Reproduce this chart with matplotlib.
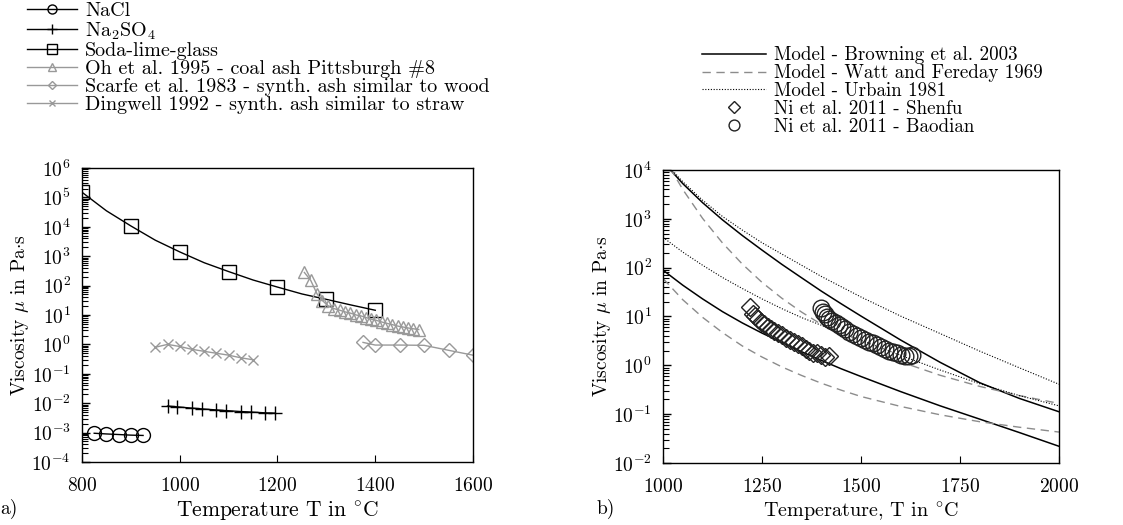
import numpy as np
import matplotlib
matplotlib.use("Agg")
import matplotlib.pyplot as plt
from matplotlib.ticker import LogLocator, NullFormatter, FixedLocator

plt.rcParams['font.family'] = ['cmr10', 'DejaVu Serif']
plt.rcParams['mathtext.fontset'] = 'cm'
plt.rcParams['axes.formatter.use_mathtext'] = True
plt.rcParams['axes.unicode_minus'] = False
plt.rcParams['font.size'] = 14

GREY = '#999999'

# ---- panel a) data (temperature in degC, viscosity in Pa s) ----
nacl_T = [825, 850, 875, 900, 925]
nacl_mu = [0.95e-3, 0.9e-3, 0.86e-3, 0.82e-3, 0.8e-3]

na2so4_T = [975, 995, 1025, 1045, 1075, 1095, 1125, 1145, 1175, 1195]
na2so4_mu = [8.0e-3, 7.5e-3, 6.8e-3, 6.4e-3, 5.9e-3, 5.6e-3, 5.2e-3, 5.0e-3, 4.7e-3, 4.6e-3]

glass_T = [800, 900, 1000, 1100, 1200, 1300, 1400]
glass_mu = [1.5e5, 1.07e4, 1.4e3, 300, 89, 34, 14.5]
# fitted curve through the soda-lime-glass points
glass_fit_T = [800, 850, 900, 950, 1000, 1050, 1100, 1150, 1200, 1250, 1300, 1350, 1400]
glass_fit_mu = [1.5e5, 3.5e4, 1.07e4, 3.5e3, 1.4e3, 600, 300, 155, 89, 52, 34, 22, 14.5]

oh_T = [1255, 1268, 1281, 1292, 1304, 1315, 1327, 1338, 1349, 1361, 1371, 1381,
        1392, 1402, 1413, 1424, 1435, 1446, 1457, 1468, 1478, 1489]
oh_mu = [280, 150, 52, 31, 20, 16.6, 14.6, 12.8, 11.6, 10.0, 9.3, 8.2,
         7.2, 6.6, 5.8, 5.2, 4.7, 4.2, 3.9, 3.6, 3.4, 3.2]

scarfe_T = [1375, 1400, 1450, 1500, 1550, 1600]
scarfe_mu = [1.17, 0.95, 0.95, 0.93, 0.63, 0.43]

dingwell_T = [950, 975, 1000, 1025, 1050, 1075, 1100, 1125, 1150]
dingwell_mu = [0.8, 1.0, 0.85, 0.68, 0.58, 0.5, 0.43, 0.35, 0.3]

# ---- panel b) data ----
model_T = [1000, 1050, 1100, 1150, 1200, 1250, 1300, 1350, 1400, 1450, 1500,
           1600, 1700, 1800, 1900, 2000]
browning_baodian = [14800, 5250, 2140, 955, 457, 229, 117, 62, 33, 18.2, 10.2,
                    3.3, 1.15, 0.44, 0.21, 0.112]
urbain_baodian = [15800, 5750, 2400, 1120, 590, 324, 190, 112, 66, 40.7, 25.1,
                  10.2, 4.47, 1.95, 0.89, 0.41]
watt_baodian = [19500, 3980, 1020, 322, 119, 50, 23.7, 12.3, 6.9, 4.1, 2.6,
                1.18, 0.625, 0.37, 0.24, 0.166]
browning_shenfu = [89, 43.7, 22.9, 12.6, 7.4, 4.57, 2.95, 1.9, 1.26, 0.85, 0.59,
                   0.29, 0.148, 0.079, 0.042, 0.022]
urbain_shenfu = [417, 208, 112, 63, 37.5, 22.9, 14.5, 9.5, 6.6, 4.6, 3.24,
                 1.6, 0.8, 0.42, 0.24, 0.148]
watt_shenfu = [60, 22, 9.6, 4.7, 2.5, 1.48, 0.93, 0.62, 0.43, 0.31, 0.23,
               0.144, 0.097, 0.070, 0.054, 0.043]

shenfu_T = [1220, 1226, 1232, 1240, 1248, 1256, 1264, 1272, 1280, 1290, 1300, 1310,
            1320, 1330, 1340, 1350, 1360, 1368, 1378, 1390, 1400, 1410, 1420]
shenfu_mu = [16, 11.5, 10, 8.8, 7.8, 6.9, 6.2, 5.6, 5.1, 4.5, 4.1, 3.7,
             3.3, 3.0, 2.7, 2.5, 2.2, 2.0, 1.8, 1.75, 1.6, 1.5, 1.55]

baodian_T = [1400, 1405, 1410, 1415, 1420, 1428, 1436, 1444, 1452, 1460, 1470, 1480,
             1490, 1500, 1510, 1520, 1530, 1540, 1550, 1560, 1570, 1580, 1590, 1600,
             1610, 1620, 1630]
baodian_mu = [14.8, 12.6, 11.0, 9.8, 8.9, 7.9, 7.2, 6.6, 6.0, 5.5, 4.9, 4.4,
              4.0, 3.6, 3.3, 3.0, 2.8, 2.6, 2.4, 2.2, 2.0, 1.9, 1.8, 1.66,
              1.58, 1.58, 1.62]

fig = plt.figure(figsize=(11.23, 5.25), dpi=100)
ax1 = fig.add_axes([0.0730, 0.1200, 0.3482, 0.5600])
ax2 = fig.add_axes([0.5904, 0.1181, 0.3526, 0.5581])

# ---- panel a ----
h_nacl, = ax1.plot(nacl_T, nacl_mu, color='k', lw=1, marker='o', ms=10,
                   mfc='none', mec='k', mew=1, label='NaCl')
h_na2, = ax1.plot(na2so4_T, na2so4_mu, color='k', lw=1, marker='+', ms=10,
                  mew=1, label='Na$_2$SO$_4$')
ax1.plot(glass_fit_T, glass_fit_mu, color='k', lw=1)
ax1.plot(glass_T, glass_mu, ls='none', marker='s', ms=10,
         mfc='none', mec='k', mew=1)
h_glass, = ax1.plot([], [], color='k', lw=1, marker='s', ms=10,
                    mfc='none', mec='k', mew=1, label='Soda-lime-glass')
h_oh, = ax1.plot(oh_T, oh_mu, color=GREY, lw=1, marker='^', ms=9,
                 mfc='none', mec=GREY, mew=1,
                 label='Oh et al. 1995 - coal ash Pittsburgh #8')
h_sc, = ax1.plot(scarfe_T, scarfe_mu, color=GREY, lw=1, marker='D', ms=7,
                 mfc='none', mec=GREY, mew=1,
                 label='Scarfe et al. 1983 - synth. ash similar to wood')
h_dw, = ax1.plot(dingwell_T, dingwell_mu, color=GREY, lw=1, marker='x', ms=7,
                 mew=1, label='Dingwell 1992 - synth. ash similar to straw')

ax1.set_xlim(800, 1600)
ax1.set_ylim(1e-4, 1e6)
ax1.set_yscale('log')
ax1.xaxis.set_major_locator(FixedLocator([800, 1000, 1200, 1400, 1600]))
ax1.set_xlabel('Temperature T in $^{\\circ}$C', fontsize=15.5, labelpad=3)
ax1.set_ylabel('Viscosity $\\mu$ in Pa$\\cdot$s', labelpad=0)

ax1.legend(handles=[h_nacl, h_na2, h_glass, h_oh, h_sc, h_dw],
           loc='upper left', bbox_to_anchor=(0.024, 0.996),
           bbox_transform=fig.transFigure, frameon=False, borderpad=0,
           borderaxespad=0, handlelength=2.5, handletextpad=0.4,
           labelspacing=0.0, markerscale=0.65, fontsize=14.5)

# ---- panel b ----
h_b, = ax2.plot(model_T, browning_baodian, color='k', lw=1.1,
                label='Model - Browning et al. 2003')
ax2.plot(model_T, browning_shenfu, color='k', lw=1.1)
h_w, = ax2.plot(model_T, watt_baodian, color='#8c8c8c', lw=1, ls=(0, (6, 4)),
                label='Model - Watt and Fereday 1969')
ax2.plot(model_T, watt_shenfu, color='#8c8c8c', lw=1, ls=(0, (6, 4)))
h_u, = ax2.plot(model_T, urbain_baodian, color='k', lw=0.8, ls=(0, (1, 1.5)),
                label='Model - Urbain 1981')
ax2.plot(model_T, urbain_shenfu, color='k', lw=0.8, ls=(0, (1, 1.5)))
h_s, = ax2.plot(shenfu_T, shenfu_mu, ls='none', marker='D', ms=9,
                mfc='none', mec='#222222', mew=1,
                label='Ni et al. 2011 - Shenfu')
h_bd, = ax2.plot(baodian_T, baodian_mu, ls='none', marker='o', ms=12,
                 mfc='none', mec='#222222', mew=1,
                 label='Ni et al. 2011 - Baodian')

ax2.set_xlim(1000, 2000)
ax2.set_ylim(1e-2, 1e4)
ax2.set_yscale('log')
ax2.xaxis.set_major_locator(FixedLocator([1000, 1250, 1500, 1750, 2000]))
ax2.set_xlabel('Temperature, T in $^{\\circ}$C', fontsize=14.5, labelpad=3)
ax2.set_ylabel('Viscosity $\\mu$ in Pa$\\cdot$s', labelpad=0)

ax2.legend(handles=[h_b, h_w, h_u, h_s, h_bd],
           loc='upper left', bbox_to_anchor=(0.625, 0.912),
           bbox_transform=fig.transFigure, frameon=False, borderpad=0,
           borderaxespad=0, handlelength=3.35, handletextpad=0.42,
           labelspacing=0.0, markerscale=0.65, fontsize=13.7)

for ax in (ax1, ax2):
    ax.yaxis.set_major_locator(LogLocator(base=10, numticks=20))
    ax.yaxis.set_minor_locator(LogLocator(base=10, subs=np.arange(2, 10), numticks=200))
    ax.yaxis.set_minor_formatter(NullFormatter())
    ax.tick_params(axis='both', which='both', direction='in', top=False, right=False)
    ax.tick_params(axis='y', which='major', length=6, width=1, pad=8)
    ax.tick_params(axis='y', which='minor', length=4, width=0.8)
    ax.tick_params(axis='x', which='major', length=5, width=0.8, pad=11)
    for sp in ax.spines.values():
        sp.set_linewidth(1.0)

fig.text(0.0, 0.012, 'a)', ha='left', va='bottom')
fig.text(0.531, 0.012, 'b)', ha='left', va='bottom')

fig.savefig('out.png', dpi=100)
